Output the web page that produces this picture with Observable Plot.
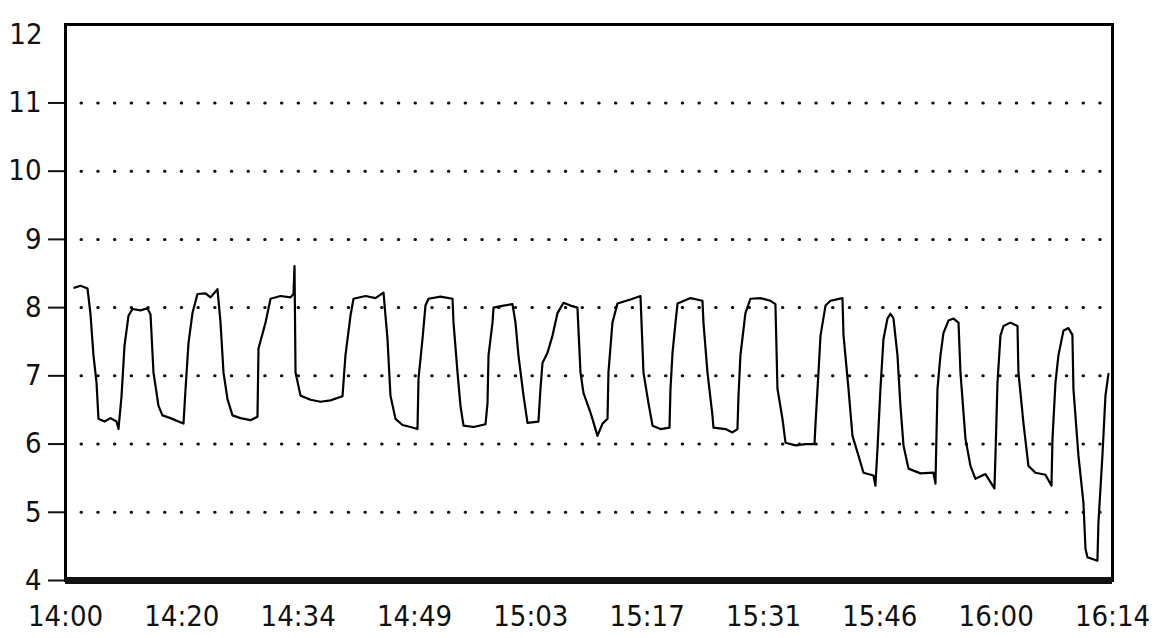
<!DOCTYPE html>
<html><head><meta charset="utf-8">
<script src="https://cdn.jsdelivr.net/npm/d3@7"></script>
<script src="https://cdn.jsdelivr.net/npm/@observablehq/plot@0.6"></script>
<style>body{margin:0;background:#fff} svg{display:block}</style>
</head><body><div id="chart"></div>
<script>
// minutes since 14:00
const minutes = [1.15,1.92,2.82,3.2,3.58,3.97,4.22,4.99,5.76,6.53,6.78,7.17,7.55,8.06,8.57,9.6,10.49,10.88,11.26,11.9,12.41,13.44,14.46,15.1,15.36,15.74,16.25,16.89,17.92,18.56,19.45,19.84,20.22,20.73,21.37,22.4,23.67,24.57,24.7,25.6,26.24,27.52,28.8,29.18,29.31,29.44,30.08,31.36,32.63,33.91,35.45,35.83,36.47,36.86,38.39,39.67,40.7,41.21,41.59,42.23,43.13,44.15,45.05,45.18,45.69,46.07,46.46,48.0,49.53,49.66,50.17,50.55,50.94,52.22,53.75,54.01,54.14,54.65,54.78,56.06,57.21,57.59,57.97,58.62,59.13,60.53,60.79,61.05,61.69,62.33,62.97,63.73,64.63,65.52,65.91,66.29,67.19,67.44,68.08,68.73,69.37,69.49,70.0,70.64,72.31,73.59,73.97,74.61,75.13,76.15,77.3,77.43,77.69,78.07,78.33,79.99,81.52,81.65,82.16,82.8,82.93,84.47,85.36,86.0,86.13,86.38,87.02,87.66,88.94,90.22,90.86,91.12,91.76,92.15,93.43,94.71,95.86,95.99,96.37,96.63,97.27,97.91,99.44,99.57,100.21,100.72,101.49,102.13,103.41,103.66,103.92,104.3,104.69,105.2,105.58,105.97,106.48,106.86,107.25,107.89,109.42,111.08,111.34,111.6,111.98,112.37,113.01,113.65,114.29,114.54,115.18,115.82,116.46,117.74,118.89,119.02,119.28,119.66,120.05,120.94,121.84,121.96,122.6,123.24,124.14,125.42,126.19,126.32,126.7,127.08,127.72,128.36,128.87,129.0,129.64,130.28,130.54,130.79,132.07,132.2,132.71,133.1,133.48];
const values = [8.29,8.32,8.28,7.9,7.3,6.9,6.37,6.33,6.38,6.33,6.22,6.7,7.44,7.88,7.98,7.96,7.99,7.9,7.05,6.56,6.42,6.38,6.33,6.3,6.8,7.48,7.92,8.2,8.21,8.15,8.27,7.78,7.05,6.66,6.42,6.38,6.35,6.4,7.4,7.78,8.13,8.17,8.15,8.2,8.61,7.05,6.71,6.65,6.62,6.64,6.7,7.3,7.88,8.13,8.17,8.14,8.22,7.54,6.71,6.37,6.28,6.25,6.22,6.96,7.54,8.03,8.13,8.16,8.13,7.78,7.05,6.56,6.27,6.25,6.29,6.6,7.3,7.78,8.0,8.03,8.05,7.78,7.3,6.71,6.31,6.33,6.81,7.19,7.34,7.59,7.92,8.07,8.03,8.0,7.05,6.75,6.46,6.37,6.12,6.3,6.37,7.05,7.78,8.06,8.12,8.17,7.05,6.6,6.27,6.22,6.24,6.81,7.34,7.78,8.06,8.14,8.1,7.78,7.05,6.42,6.24,6.22,6.17,6.22,6.7,7.3,7.92,8.13,8.14,8.1,8.05,6.81,6.37,6.02,5.98,6.0,6.0,6.3,7.05,7.59,8.03,8.1,8.14,7.6,6.81,6.12,5.83,5.58,5.54,5.39,5.93,6.81,7.54,7.84,7.91,7.84,7.3,6.56,5.98,5.64,5.57,5.58,5.42,6.81,7.3,7.63,7.81,7.84,7.78,7.05,6.08,5.68,5.49,5.56,5.35,5.83,6.9,7.59,7.73,7.78,7.73,7.05,6.31,5.68,5.58,5.55,5.39,6.08,6.9,7.3,7.66,7.7,7.6,6.81,5.83,5.14,4.47,4.34,4.29,4.85,5.83,6.71,7.03];
const xTickLabels = ["14:00","14:20","14:34","14:49","15:03","15:17","15:31","15:46","16:00","16:14"];
const spanMinutes = 134;
const yTickValues = [4,5,6,7,8,9,10,11];
const yTopLabel = [12];
const gridValues = [5,6,7,8,9,10,11];

const data = minutes.map((m, i) => ({t: m, v: values[i]}));
const xTickPos = xTickLabels.map((_, i) => i * spanMinutes / (xTickLabels.length - 1));
const labelByPos = new Map(xTickPos.map((p, i) => [p, xTickLabels[i]]));

const chart = Plot.plot({
  width: 1157,
  height: 638,
  marginLeft: 65,
  marginRight: 45,
  marginTop: 24,
  marginBottom: 58,
  x: {domain: [0, spanMinutes], label: null},
  y: {domain: [4, 12.15], label: null},
  style: {fontFamily: "'DejaVu Sans Condensed', 'DejaVu Sans', sans-serif", fontSize: "29px", color: "#111", background: "#fff"},
  marks: [
    Plot.ruleY(gridValues, {stroke: "#111", strokeWidth: 3, strokeDasharray: "0.5,16.2", strokeLinecap: "round", insetLeft: 16, insetRight: 10}),
    Plot.axisY(yTickValues, {label: null, tickSize: 17, tickPadding: 7, strokeWidth: 2, tickFormat: d => String(d)}),
    Plot.axisY(yTopLabel, {label: null, tickSize: 0, tickPadding: 23, tickFormat: d => String(d)}),
    Plot.axisX(xTickPos, {label: null, tickSize: 0, tickPadding: 25, tickFormat: d => labelByPos.get(d)}),
    Plot.line(data, {x: "t", y: "v", stroke: "#000", strokeWidth: 2.2}),
    Plot.frame({stroke: "#000", strokeWidth: 3}),
    Plot.ruleY([4], {stroke: "#111", strokeWidth: 7})
  ]
});
document.getElementById("chart").appendChild(chart);
</script>
</body></html>
